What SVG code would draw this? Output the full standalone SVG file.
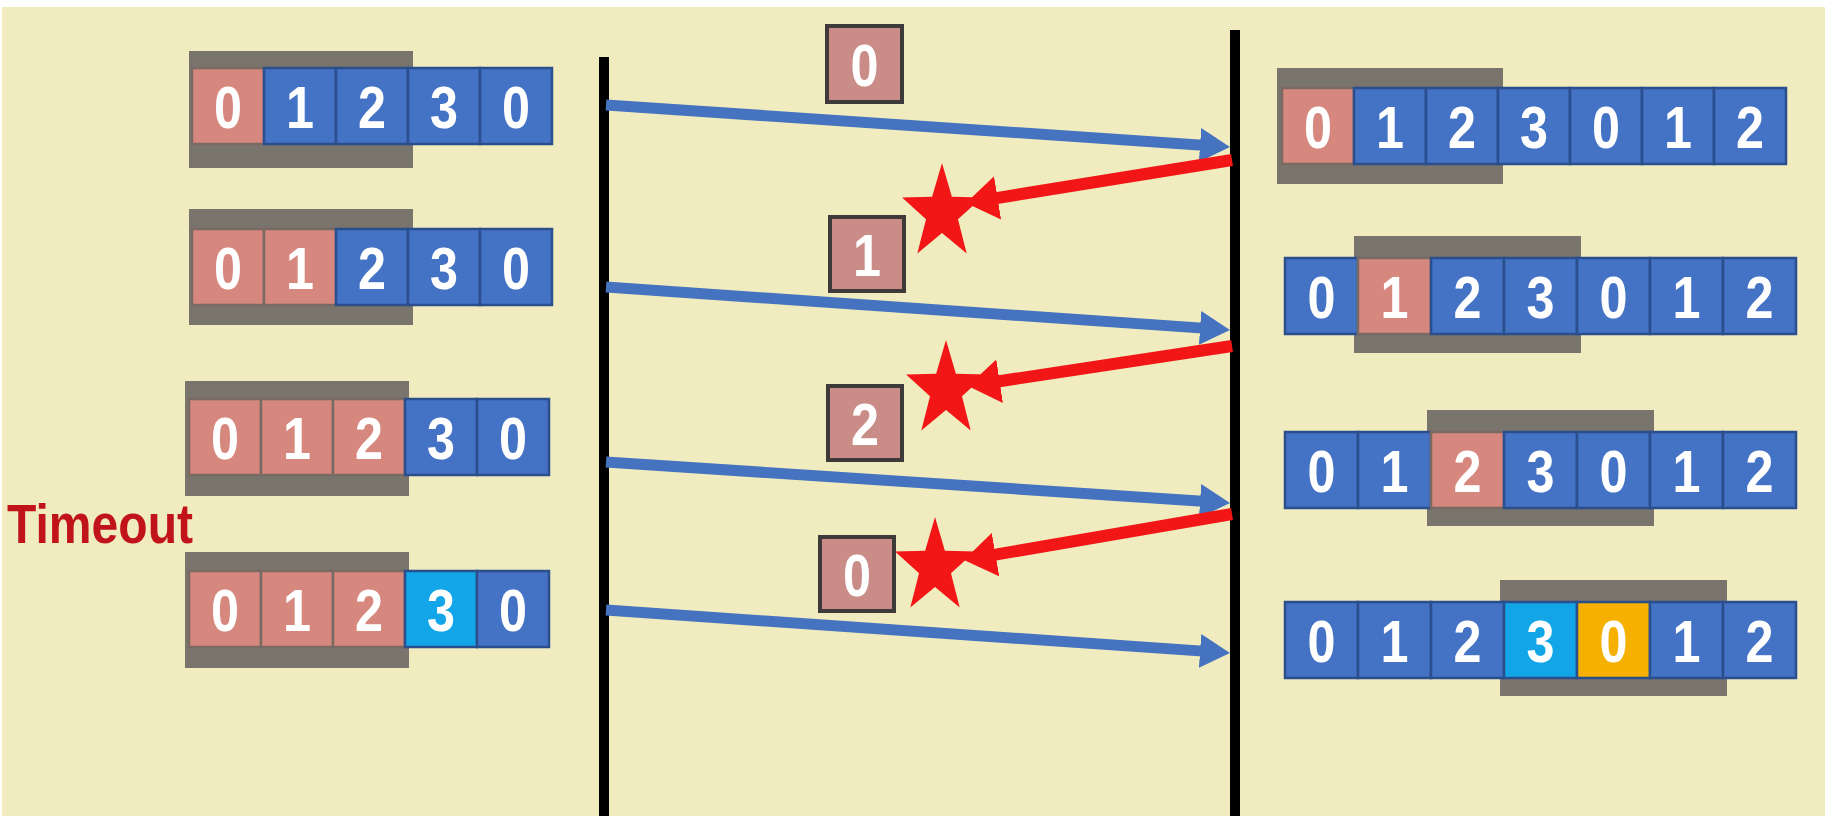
<svg xmlns="http://www.w3.org/2000/svg" width="1825" height="816" viewBox="0 0 1825 816">
<defs>
<style>
.win{fill:#7A756C}
.b{fill:#4472C4;stroke:#2B4E8C;stroke-width:2.5}
.p{fill:#D6877E;stroke:#7A6A64;stroke-width:2.5}
.c{fill:#12A6E8;stroke:#2B4E8C;stroke-width:2.5}
.o{fill:#F5B000;stroke:#2B4E8C;stroke-width:2.5}
.pk{fill:#C98C87;stroke:#3E3A3A;stroke-width:4}
.d{font-family:"Liberation Sans",Arial,sans-serif;font-size:60px;font-weight:bold;fill:#FFFFFF;text-anchor:middle}
.blue{stroke:#4673BF;stroke-width:11;fill:none}
.red{stroke:#F21616;stroke-width:12;fill:none}
.life{stroke:#000;stroke-width:10}
</style>
<marker id="hb" markerUnits="userSpaceOnUse" markerWidth="32" markerHeight="34" refX="10" refY="17" orient="auto">
<path d="M0,0 L30,17 L0,34 z" fill="#4673BF"/>
</marker>
<marker id="hr" markerUnits="userSpaceOnUse" markerWidth="34" markerHeight="44" refX="12" refY="22" orient="auto">
<path d="M0,0 L32,22 L0,44 z" fill="#F21616"/>
</marker>
<polygon id="star" points="0,-50 11.76,-16.18 47.55,-15.45 19.02,6.18 29.39,40.45 0,20 -29.39,40.45 -19.02,6.18 -47.55,-15.45 -11.76,-16.18" fill="#F21616"/>
</defs>

<rect x="0" y="0" width="1825" height="816" fill="#FFFFFF"/>
<rect x="2" y="7" width="1823" height="809" fill="#F0ECC0"/>

<g id="lifelines">
<line class="life" x1="604" y1="57" x2="604" y2="816"/>
<line class="life" x1="1235" y1="30" x2="1235" y2="816"/>
</g>

<g id="sender-row1">
<rect class="win" x="189" y="51" width="224" height="117"/>
<rect class="p" x="192" y="68" width="72" height="76"/>
<rect class="b" x="264" y="68" width="72" height="76"/>
<rect class="b" x="336" y="68" width="72" height="76"/>
<rect class="b" x="408" y="68" width="72" height="76"/>
<rect class="b" x="480" y="68" width="72" height="76"/>
<text class="d" x="228" y="128" textLength="28" lengthAdjust="spacingAndGlyphs">0</text>
<text class="d" x="300" y="128" textLength="28" lengthAdjust="spacingAndGlyphs">1</text>
<text class="d" x="372" y="128" textLength="28" lengthAdjust="spacingAndGlyphs">2</text>
<text class="d" x="444" y="128" textLength="28" lengthAdjust="spacingAndGlyphs">3</text>
<text class="d" x="516" y="128" textLength="28" lengthAdjust="spacingAndGlyphs">0</text>
</g>

<g id="sender-row2">
<rect class="win" x="189" y="209" width="224" height="116"/>
<rect class="p" x="192" y="229" width="72" height="76"/>
<rect class="p" x="264" y="229" width="72" height="76"/>
<rect class="b" x="336" y="229" width="72" height="76"/>
<rect class="b" x="408" y="229" width="72" height="76"/>
<rect class="b" x="480" y="229" width="72" height="76"/>
<text class="d" x="228" y="289" textLength="28" lengthAdjust="spacingAndGlyphs">0</text>
<text class="d" x="300" y="289" textLength="28" lengthAdjust="spacingAndGlyphs">1</text>
<text class="d" x="372" y="289" textLength="28" lengthAdjust="spacingAndGlyphs">2</text>
<text class="d" x="444" y="289" textLength="28" lengthAdjust="spacingAndGlyphs">3</text>
<text class="d" x="516" y="289" textLength="28" lengthAdjust="spacingAndGlyphs">0</text>
</g>

<g id="sender-row3">
<rect class="win" x="185" y="381" width="224" height="115"/>
<rect class="p" x="189" y="399" width="72" height="76"/>
<rect class="p" x="261" y="399" width="72" height="76"/>
<rect class="p" x="333" y="399" width="72" height="76"/>
<rect class="b" x="405" y="399" width="72" height="76"/>
<rect class="b" x="477" y="399" width="72" height="76"/>
<text class="d" x="225" y="459" textLength="28" lengthAdjust="spacingAndGlyphs">0</text>
<text class="d" x="297" y="459" textLength="28" lengthAdjust="spacingAndGlyphs">1</text>
<text class="d" x="369" y="459" textLength="28" lengthAdjust="spacingAndGlyphs">2</text>
<text class="d" x="441" y="459" textLength="28" lengthAdjust="spacingAndGlyphs">3</text>
<text class="d" x="513" y="459" textLength="28" lengthAdjust="spacingAndGlyphs">0</text>
</g>

<g id="timeout">
<text x="7" y="543" font-family="'Liberation Sans',Arial,sans-serif" font-weight="bold" font-size="56" fill="#C0141A" textLength="186" lengthAdjust="spacingAndGlyphs">Timeout</text>
</g>

<g id="sender-row4">
<rect class="win" x="185" y="552" width="224" height="116"/>
<rect class="p" x="189" y="571" width="72" height="76"/>
<rect class="p" x="261" y="571" width="72" height="76"/>
<rect class="p" x="333" y="571" width="72" height="76"/>
<rect class="c" x="405" y="571" width="72" height="76"/>
<rect class="b" x="477" y="571" width="72" height="76"/>
<text class="d" x="225" y="631" textLength="28" lengthAdjust="spacingAndGlyphs">0</text>
<text class="d" x="297" y="631" textLength="28" lengthAdjust="spacingAndGlyphs">1</text>
<text class="d" x="369" y="631" textLength="28" lengthAdjust="spacingAndGlyphs">2</text>
<text class="d" x="441" y="631" textLength="28" lengthAdjust="spacingAndGlyphs">3</text>
<text class="d" x="513" y="631" textLength="28" lengthAdjust="spacingAndGlyphs">0</text>
</g>

<g id="receiver-row1">
<rect class="win" x="1277" y="68" width="226" height="116"/>
<rect class="p" x="1282" y="88" width="72" height="76"/>
<rect class="b" x="1354" y="88" width="72" height="76"/>
<rect class="b" x="1426" y="88" width="72" height="76"/>
<rect class="b" x="1498" y="88" width="72" height="76"/>
<rect class="b" x="1570" y="88" width="72" height="76"/>
<rect class="b" x="1642" y="88" width="72" height="76"/>
<rect class="b" x="1714" y="88" width="72" height="76"/>
<text class="d" x="1318" y="148" textLength="28" lengthAdjust="spacingAndGlyphs">0</text>
<text class="d" x="1390" y="148" textLength="28" lengthAdjust="spacingAndGlyphs">1</text>
<text class="d" x="1462" y="148" textLength="28" lengthAdjust="spacingAndGlyphs">2</text>
<text class="d" x="1534" y="148" textLength="28" lengthAdjust="spacingAndGlyphs">3</text>
<text class="d" x="1606" y="148" textLength="28" lengthAdjust="spacingAndGlyphs">0</text>
<text class="d" x="1678" y="148" textLength="28" lengthAdjust="spacingAndGlyphs">1</text>
<text class="d" x="1750" y="148" textLength="28" lengthAdjust="spacingAndGlyphs">2</text>
</g>

<g id="receiver-row2">
<rect class="win" x="1354" y="236" width="227" height="117"/>
<rect class="b" x="1285" y="258" width="73" height="76"/>
<rect class="p" x="1358" y="258" width="73" height="76"/>
<rect class="b" x="1431" y="258" width="73" height="76"/>
<rect class="b" x="1504" y="258" width="73" height="76"/>
<rect class="b" x="1577" y="258" width="73" height="76"/>
<rect class="b" x="1650" y="258" width="73" height="76"/>
<rect class="b" x="1723" y="258" width="73" height="76"/>
<text class="d" x="1321.5" y="318" textLength="28" lengthAdjust="spacingAndGlyphs">0</text>
<text class="d" x="1394.5" y="318" textLength="28" lengthAdjust="spacingAndGlyphs">1</text>
<text class="d" x="1467.5" y="318" textLength="28" lengthAdjust="spacingAndGlyphs">2</text>
<text class="d" x="1540.5" y="318" textLength="28" lengthAdjust="spacingAndGlyphs">3</text>
<text class="d" x="1613.5" y="318" textLength="28" lengthAdjust="spacingAndGlyphs">0</text>
<text class="d" x="1686.5" y="318" textLength="28" lengthAdjust="spacingAndGlyphs">1</text>
<text class="d" x="1759.5" y="318" textLength="28" lengthAdjust="spacingAndGlyphs">2</text>
</g>

<g id="receiver-row3">
<rect class="win" x="1427" y="410" width="227" height="116"/>
<rect class="b" x="1285" y="432" width="73" height="76"/>
<rect class="b" x="1358" y="432" width="73" height="76"/>
<rect class="p" x="1431" y="432" width="73" height="76"/>
<rect class="b" x="1504" y="432" width="73" height="76"/>
<rect class="b" x="1577" y="432" width="73" height="76"/>
<rect class="b" x="1650" y="432" width="73" height="76"/>
<rect class="b" x="1723" y="432" width="73" height="76"/>
<text class="d" x="1321.5" y="492" textLength="28" lengthAdjust="spacingAndGlyphs">0</text>
<text class="d" x="1394.5" y="492" textLength="28" lengthAdjust="spacingAndGlyphs">1</text>
<text class="d" x="1467.5" y="492" textLength="28" lengthAdjust="spacingAndGlyphs">2</text>
<text class="d" x="1540.5" y="492" textLength="28" lengthAdjust="spacingAndGlyphs">3</text>
<text class="d" x="1613.5" y="492" textLength="28" lengthAdjust="spacingAndGlyphs">0</text>
<text class="d" x="1686.5" y="492" textLength="28" lengthAdjust="spacingAndGlyphs">1</text>
<text class="d" x="1759.5" y="492" textLength="28" lengthAdjust="spacingAndGlyphs">2</text>
</g>

<g id="receiver-row4">
<rect class="win" x="1500" y="580" width="227" height="116"/>
<rect class="b" x="1285" y="602" width="73" height="76"/>
<rect class="b" x="1358" y="602" width="73" height="76"/>
<rect class="b" x="1431" y="602" width="73" height="76"/>
<rect class="c" x="1504" y="602" width="73" height="76"/>
<rect class="o" x="1577" y="602" width="73" height="76"/>
<rect class="b" x="1650" y="602" width="73" height="76"/>
<rect class="b" x="1723" y="602" width="73" height="76"/>
<text class="d" x="1321.5" y="662" textLength="28" lengthAdjust="spacingAndGlyphs">0</text>
<text class="d" x="1394.5" y="662" textLength="28" lengthAdjust="spacingAndGlyphs">1</text>
<text class="d" x="1467.5" y="662" textLength="28" lengthAdjust="spacingAndGlyphs">2</text>
<text class="d" x="1540.5" y="662" textLength="28" lengthAdjust="spacingAndGlyphs">3</text>
<text class="d" x="1613.5" y="662" textLength="28" lengthAdjust="spacingAndGlyphs">0</text>
<text class="d" x="1686.5" y="662" textLength="28" lengthAdjust="spacingAndGlyphs">1</text>
<text class="d" x="1759.5" y="662" textLength="28" lengthAdjust="spacingAndGlyphs">2</text>
</g>

<g id="packet-0a">
<rect class="pk" x="827" y="26" width="75" height="76"/>
<text class="d" x="864.5" y="86" textLength="28" lengthAdjust="spacingAndGlyphs">0</text>
</g>
<g id="packet-1">
<rect class="pk" x="830" y="217" width="74" height="74"/>
<text class="d" x="867" y="276" textLength="28" lengthAdjust="spacingAndGlyphs">1</text>
</g>
<g id="packet-2">
<rect class="pk" x="828" y="386" width="74" height="74"/>
<text class="d" x="865" y="445" textLength="28" lengthAdjust="spacingAndGlyphs">2</text>
</g>
<g id="packet-0b">
<rect class="pk" x="820" y="537" width="74" height="74"/>
<text class="d" x="857" y="596" textLength="28" lengthAdjust="spacingAndGlyphs">0</text>
</g>

<g id="connectors">
<line class="blue" x1="606" y1="105" x2="1210" y2="145.66" marker-end="url(#hb)"/>
<line class="blue" x1="606" y1="287" x2="1210.05" y2="328.63" marker-end="url(#hb)"/>
<line class="blue" x1="606" y1="462" x2="1210.04" y2="501.69" marker-end="url(#hb)"/>
<line class="blue" x1="606" y1="610" x2="1210.05" y2="651.63" marker-end="url(#hb)"/>
<line class="red" x1="1232" y1="160" x2="985.74" y2="199.81" marker-end="url(#hr)"/>
<line class="red" x1="1232" y1="346" x2="987.77" y2="383" marker-end="url(#hr)"/>
<line class="red" x1="1232" y1="514" x2="983.71" y2="556.62" marker-end="url(#hr)"/>
</g>

<g id="losses">
<use href="#star" transform="translate(942,213) scale(0.84,1)"/>
<use href="#star" transform="translate(946,390) scale(0.84,1)"/>
<use href="#star" transform="translate(935,567) scale(0.84,1)"/>
</g>
</svg>
